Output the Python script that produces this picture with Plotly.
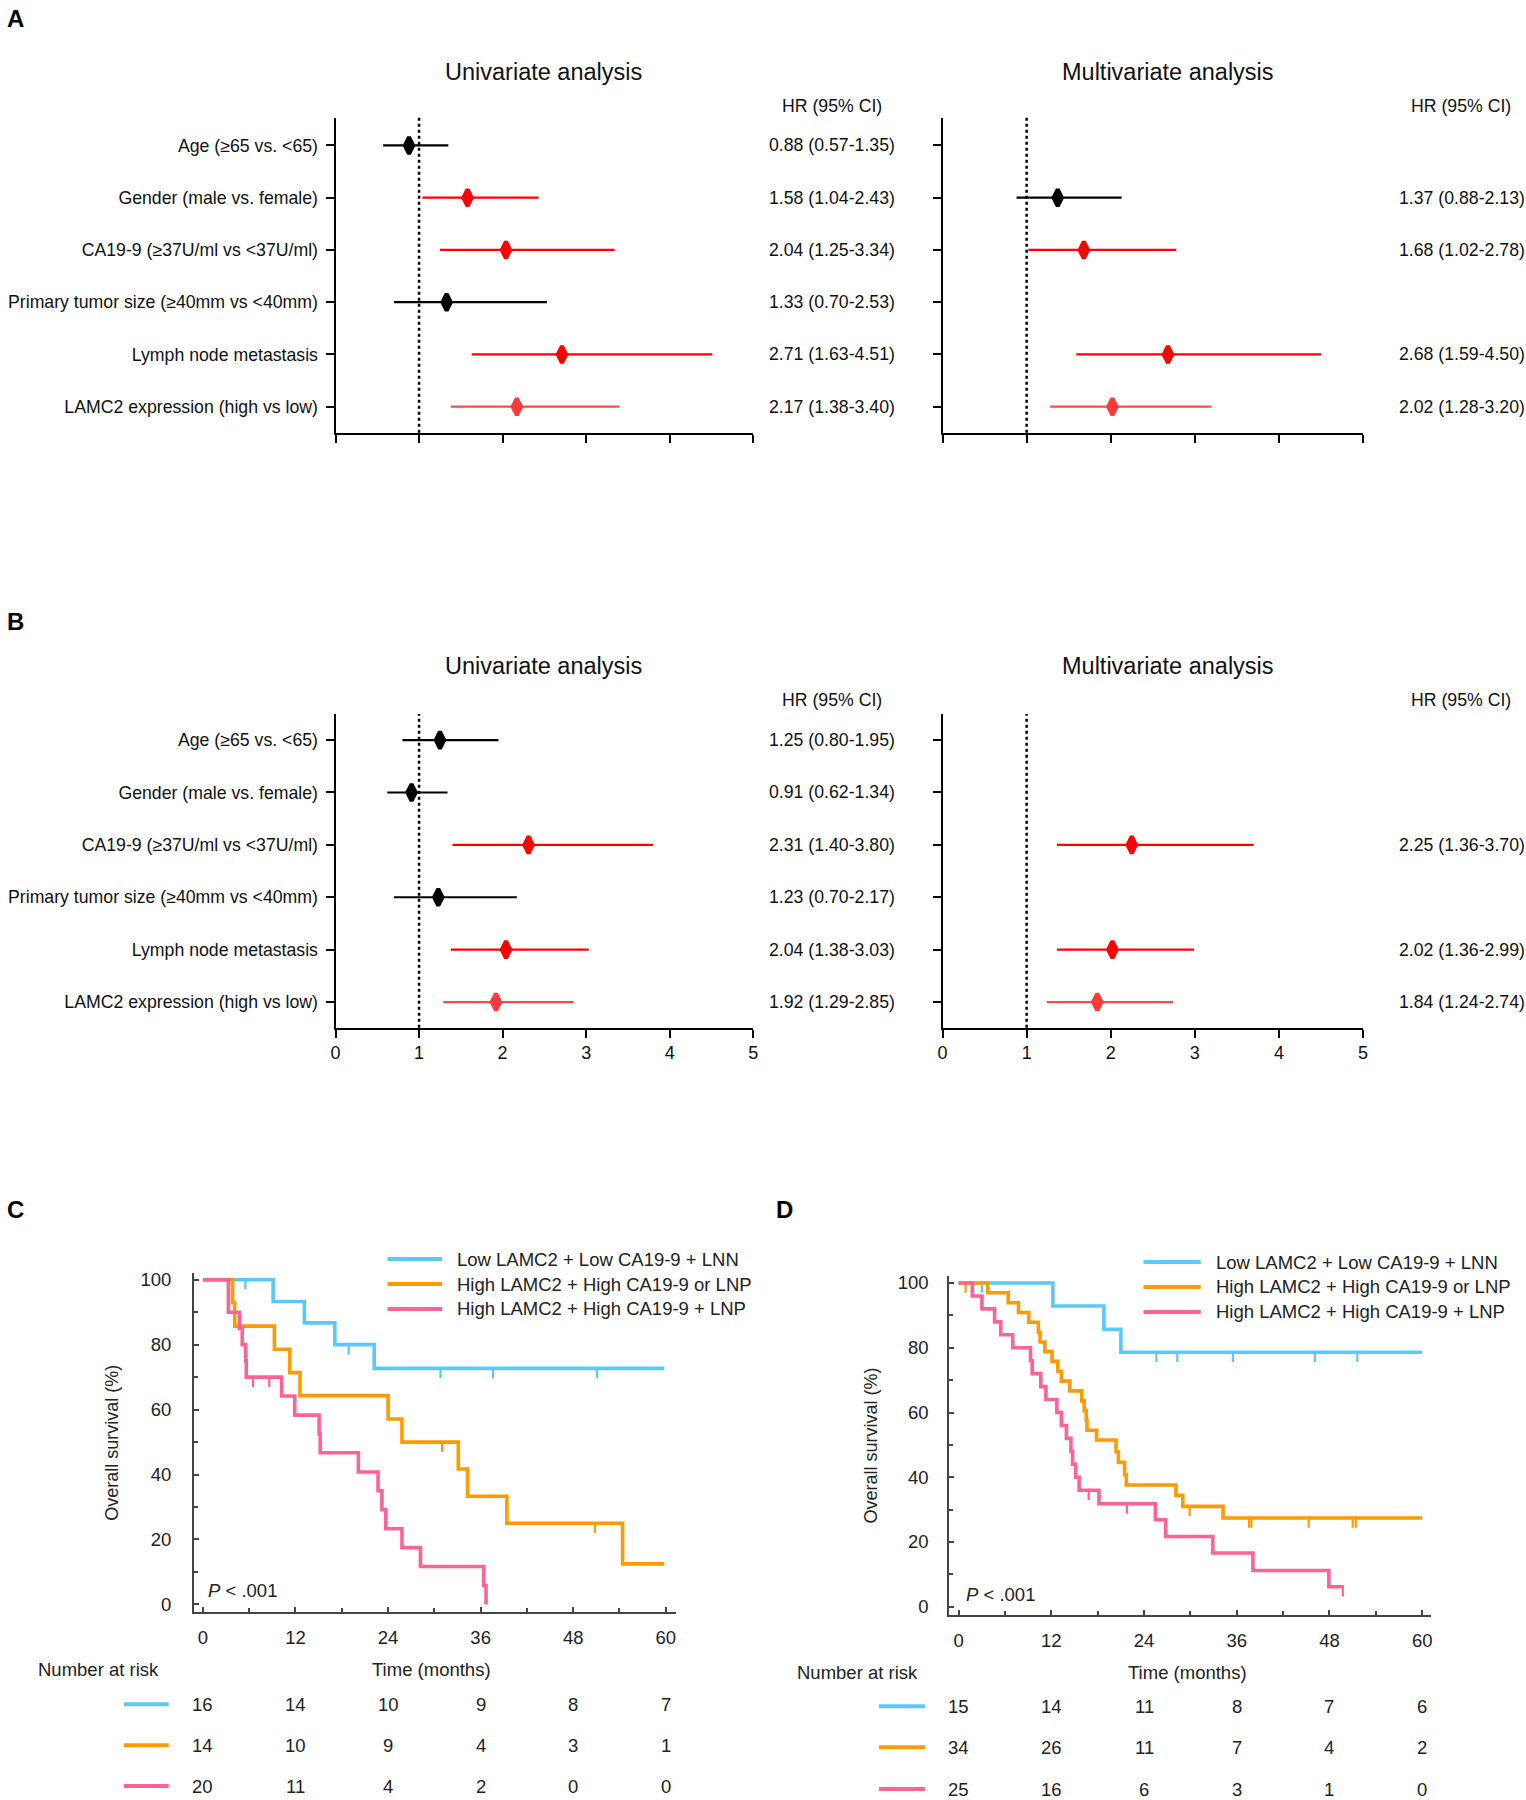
import plotly.graph_objects as go

W, H = 1526, 1800
FONT = "Liberation Sans, Arial, sans-serif"


def fx(p):
    return p / W


def fy(p):
    return 1 - p / H


# ---------------- data ----------------
factors = ["Age (≥65 vs. <65)", "Gender (male vs. female)", "CA19-9 (≥37U/ml vs <37U/ml)",
           "Primary tumor size (≥40mm vs <40mm)", "Lymph node metastasis",
           "LAMC2 expression (high vs low)"]

A_uni_hr = [0.88, 1.58, 2.04, 1.33, 2.71, 2.17]
A_uni_lo = [0.57, 1.04, 1.25, 0.70, 1.63, 1.38]
A_uni_hi = [1.35, 2.43, 3.34, 2.53, 4.51, 3.40]
A_multi_hr = [None, 1.37, 1.68, None, 2.68, 2.02]
A_multi_lo = [None, 0.88, 1.02, None, 1.59, 1.28]
A_multi_hi = [None, 2.13, 2.78, None, 4.50, 3.20]

B_uni_hr = [1.25, 0.91, 2.31, 1.23, 2.04, 1.92]
B_uni_lo = [0.80, 0.62, 1.40, 0.70, 1.38, 1.29]
B_uni_hi = [1.95, 1.34, 3.80, 2.17, 3.03, 2.85]
B_multi_hr = [None, None, 2.25, None, 2.02, 1.84]
B_multi_lo = [None, None, 1.36, None, 1.36, 1.24]
B_multi_hi = [None, None, 3.70, None, 2.99, 2.74]

group_names = ["Low LAMC2 + Low CA19-9 + LNN",
               "High LAMC2 + High CA19-9 or LNP",
               "High LAMC2 + High CA19-9 + LNP"]
km_colors = ["#5cc8fa", "#ff9a00", "#ff6396"]

# Panel C (event times in months, survival % after each event)
C_blue_t = [9.1, 13.15, 17.1, 22.2]
C_blue_s = [93.3, 86.7, 80.0, 72.7]
C_blue_end = 59.8
C_blue_cens = [5.5, 18.9, 30.8, 37.6, 51.1]

C_orange_t = [3.85, 4.12, 9.26, 11.25, 12.58, 24.0, 25.8, 33.1, 34.3, 39.4, 54.4]
C_orange_s = [92.9, 85.7, 78.6, 71.4, 64.3, 57.1, 50.0, 41.7, 33.3, 25.0, 12.5]
C_orange_end = 59.8
C_orange_cens = [31.0, 50.8]

C_pink_t = [3.3, 4.74, 5.09, 5.54, 5.62, 10.2, 11.9, 15.06, 15.2, 20.15, 22.7, 23.2,
            23.7, 25.8, 28.2, 36.4, 36.7]
C_pink_s = [90.0, 85.0, 80.0, 75.0, 70.0, 64.2, 58.3, 52.5, 46.7, 40.8, 35.0, 29.2,
            23.3, 17.5, 11.7, 5.8, 0.0]
C_pink_end = 36.7
C_pink_cens = [6.5, 8.6]

# Panel D
D_blue_t = [12.2, 18.8, 21.0]
D_blue_s = [92.9, 85.7, 78.6]
D_blue_end = 60.0
D_blue_cens = [3.0, 25.6, 28.3, 35.5, 46.1, 51.6]

D_orange_t = [3.76, 6.42, 7.75, 9.08, 10.32, 10.54, 11.16, 12.09, 12.84, 13.29, 14.39,
              15.94, 16.25, 16.52, 16.61, 17.85, 20.37, 20.68, 21.48, 21.70, 28.12,
              29.01, 34.23]
D_orange_s = [97.0, 93.9, 90.9, 87.9, 84.8, 81.8, 78.8, 75.8, 72.7, 69.7, 66.7,
              63.6, 60.6, 57.6, 54.5, 51.5, 47.9, 44.6, 40.7, 37.6, 34.4,
              31.0, 27.4]
D_orange_end = 60.0
D_orange_cens = [0.9, 29.9, 37.6, 37.9, 45.3, 51.0, 51.4]

D_pink_t = [1.77, 3.01, 4.65, 5.45, 7.0, 9.3, 9.52, 10.63, 11.29, 12.71, 13.29, 13.95,
            14.53, 14.75, 15.15, 15.59, 18.16, 25.46, 26.79, 32.9, 38.09, 47.92]
D_pink_s = [96.0, 92.0, 88.0, 84.0, 80.0, 76.0, 72.0, 68.0, 64.0, 60.0, 56.0, 52.0,
            48.0, 44.0, 40.0, 36.0, 31.8, 26.9, 21.7, 16.6, 11.2, 6.2]
D_pink_end = 49.73
D_pink_cens = [16.83, 21.79, 49.73]

risk_times = [0, 12, 24, 36, 48, 60]
C_risk = [[16, 14, 10, 9, 8, 7], [14, 10, 9, 4, 3, 1], [20, 11, 4, 2, 0, 0]]
D_risk = [[15, 14, 11, 8, 7, 6], [34, 26, 11, 7, 4, 2], [25, 16, 6, 3, 1, 0]]

# ---------------- figure ----------------
fig = go.Figure()
annotations = []
shapes = []


def ann(text, x, y, size=17.7, xanchor="center", yanchor="middle", xref="paper", yref="paper",
        bold=False, color="#111", textangle=0):
    if bold:
        text = "<b>" + text + "</b>"
    annotations.append(dict(text=text, x=x, y=y, xref=xref, yref=yref, xanchor=xanchor,
                            yanchor=yanchor, showarrow=False, textangle=textangle,
                            font=dict(family=FONT, size=size, color=color)))


RED = "#ff0000"
LIGHT_RED_LINE = "#ff4a4a"
LIGHT_RED_MARK = "#ff3a3a"


def forest(hr, lo, hi, xname, yname, text_x_px):
    for i in range(len(hr)):
        if hr[i] is None:
            continue
        sig = lo[i] > 1
        lc = (LIGHT_RED_LINE if i == 5 else RED) if sig else "#000000"
        mc = (LIGHT_RED_MARK if i == 5 else RED) if sig else "#000000"
        fig.add_trace(go.Scatter(x=[lo[i], hi[i]], y=[i, i], mode="lines",
                                 line=dict(color=lc, width=2.2), xaxis=xname, yaxis=yname,
                                 showlegend=False, hoverinfo="skip"))
        fig.add_trace(go.Scatter(x=[hr[i]], y=[i], mode="markers",
                                 marker=dict(symbol="diamond-tall", size=12, color=mc,
                                             line=dict(color=mc, width=4)),
                                 xaxis=xname, yaxis=yname, showlegend=False))
        ann(f"{hr[i]:.2f} ({lo[i]:.2f}-{hi[i]:.2f})", fx(text_x_px), i,
            xref="paper", yref=yname)
    shapes.append(dict(type="line", xref=xname, yref=yname + " domain", x0=1, x1=1, y0=0, y1=1,
                       line=dict(color="#000", width=2.5, dash="dot"), layer="below"))


forest(A_uni_hr, A_uni_lo, A_uni_hi, "x", "y", 832)
forest(A_multi_hr, A_multi_lo, A_multi_hi, "x2", "y2", 1467)
forest(B_uni_hr, B_uni_lo, B_uni_hi, "x3", "y3", 832)
forest(B_multi_hr, B_multi_lo, B_multi_hi, "x4", "y4", 1467)


def surv_at(ts, ss, t):
    v = 100.0
    for ti, si in zip(ts, ss):
        if ti <= t:
            v = si
    return v


def km(ts, ss, end, cens, color, xname, yname, off):
    xs = [0] + ts + [end]
    ys = [100.0] + ss + [ss[-1]]
    fig.add_trace(go.Scatter(x=xs, y=ys, mode="lines", line=dict(color=color, width=3.6, shape="hv"),
                             xaxis=xname, yaxis=yname, showlegend=False))
    cy = [surv_at(ts, ss, c) - off for c in cens]
    fig.add_trace(go.Scatter(x=cens, y=cy, mode="markers",
                             marker=dict(symbol="line-ns", size=8, line=dict(color=color, width=2.2)),
                             xaxis=xname, yaxis=yname, showlegend=False))


km(C_blue_t, C_blue_s, C_blue_end, C_blue_cens, km_colors[0], "x5", "y5", 1.3)
km(C_orange_t, C_orange_s, C_orange_end, C_orange_cens, km_colors[1], "x5", "y5", 1.3)
km(C_pink_t, C_pink_s, C_pink_end, C_pink_cens, km_colors[2], "x5", "y5", 1.3)
km(D_blue_t, D_blue_s, D_blue_end, D_blue_cens, km_colors[0], "x6", "y6", 1.3)
km(D_orange_t, D_orange_s, D_orange_end, D_orange_cens, km_colors[1], "x6", "y6", 1.3)
km(D_pink_t, D_pink_s, D_pink_end, D_pink_cens, km_colors[2], "x6", "y6", 1.3)


# ---------------- axes ----------------
def forest_axes(xdom, ydom, yrange, show_x, ylabels):
    xa = dict(domain=[fx(xdom[0]), fx(xdom[1])], range=[0, 5], showline=True, linecolor="#000",
              linewidth=2, ticks="outside", ticklen=8, tickwidth=2, tickcolor="#000",
              tickmode="array", tickvals=[0, 1, 2, 3, 4, 5], showticklabels=show_x,
              showgrid=False, zeroline=False, tickfont=dict(family=FONT, size=18, color="#111"))
    ya = dict(domain=[fy(ydom[1]), fy(ydom[0])], range=yrange, showline=True, linecolor="#000",
              linewidth=2, ticks="outside", ticklen=8, tickwidth=2, tickcolor="#000",
              tickmode="array", tickvals=list(range(6)),
              ticktext=ylabels if ylabels else [""] * 6, showticklabels=bool(ylabels),
              ticklabelstandoff=4,
              showgrid=False, zeroline=False, tickfont=dict(family=FONT, size=17.7, color="#111"))
    return xa, ya


def km_axes(xdom, xr, ydom, yr, ystand):
    xa = dict(domain=[fx(xdom[0]), fx(xdom[1])], range=xr, showline=True, linecolor="#444",
              linewidth=2, ticks="inside", ticklen=5, tickwidth=1.5, tickcolor="#444",
              tickmode="linear", tick0=0, dtick=12,
              minor=dict(tick0=0, dtick=6, ticks="inside", ticklen=4, tickwidth=1.5, tickcolor="#444"),
              showgrid=False, zeroline=False, ticklabelstandoff=8,
              tickfont=dict(family=FONT, size=18.5, color="#222"))
    ya = dict(domain=[fy(ydom[1]), fy(ydom[0])], range=yr, showline=True, linecolor="#444",
              linewidth=2, ticks="inside", ticklen=5, tickwidth=1.5, tickcolor="#444",
              tickmode="linear", tick0=0, dtick=20,
              minor=dict(tick0=0, dtick=10, ticks="inside", ticklen=4, tickwidth=1.5, tickcolor="#444"),
              showgrid=False, zeroline=False, ticklabelstandoff=ystand,
              tickfont=dict(family=FONT, size=18.5, color="#222"))
    return xa, ya


xa1, ya1 = forest_axes((332.7, 753.2), (114.3, 430.3), [5.496, -0.528], False, factors)
xa2, ya2 = forest_axes((943.7, 1367), (114.3, 430.3), [5.496, -0.528], False, None)
xa3, ya3 = forest_axes((332.7, 753.2), (712.7, 1027.7), [5.49, -0.5], True, factors)
xa4, ya4 = forest_axes((943.7, 1367), (712.7, 1027.7), [5.49, -0.5], True, None)
xa5, ya5 = km_axes((190.3, 675), [-1.15, 61.27], (1274, 1614), [-2.24, 102.05], 17)
xa6, ya6 = km_axes((950.6, 1435.8), [-1.2, 61.19], (1276.7, 1617.3), [-2.55, 102.25], 15)

for k, (xa, ya) in enumerate([(xa1, ya1), (xa2, ya2), (xa3, ya3), (xa4, ya4), (xa5, ya5), (xa6, ya6)], 1):
    s = "" if k == 1 else str(k)
    xa["anchor"] = "y" + s
    ya["anchor"] = "x" + s
    fig.layout["xaxis" + s] = xa
    fig.layout["yaxis" + s] = ya

# ---------------- text ----------------
ann("A", fx(11), fy(15), size=24, bold=True, color="#000")
ann("B", fx(11), fy(620), size=24, bold=True, color="#000")
ann("C", fx(11), fy(1210), size=24, bold=True, color="#000")
ann("D", fx(785), fy(1210), size=24, bold=True, color="#000")

for ty, hy in [(68, 102), (665, 699)]:
    ann("Univariate analysis", fx(542), fy(ty), size=23.5)
    ann("Multivariate analysis", fx(1171), fy(ty), size=23.5)
    ann("HR (95% CI)", fx(832), fy(hy))
    ann("HR (95% CI)", fx(1466), fy(hy))


def km_text(leg_x0, leg_x1, leg_tx, leg_rows, ylab_x, ylab_y, p_x, p_y, time_x, time_y,
            nar_x, key_x0, key_x1, risk_rows, risk, xname):
    for k in range(3):
        shapes.append(dict(type="line", xref="paper", yref="paper", x0=fx(leg_x0), x1=fx(leg_x1),
                           y0=fy(leg_rows[k]), y1=fy(leg_rows[k]),
                           line=dict(color=km_colors[k], width=4)))
        ann(group_names[k], fx(leg_tx), fy(leg_rows[k]), size=18.5, xanchor="left", color="#222")
        shapes.append(dict(type="line", xref="paper", yref="paper", x0=fx(key_x0), x1=fx(key_x1),
                           y0=fy(risk_rows[k]), y1=fy(risk_rows[k]),
                           line=dict(color=km_colors[k], width=4)))
        for t, n in zip(risk_times, risk[k]):
            ann(str(n), t, fy(risk_rows[k]), size=18.5, xref=xname, color="#222")
    ann("Overall survival (%)", fx(ylab_x), fy(ylab_y), size=18, textangle=-90, color="#222")
    ann("<i>P</i> < .001", fx(p_x), fy(p_y), size=18.5, xanchor="left", color="#222")
    ann("Time (months)", fx(time_x), fy(time_y), size=18.5, color="#222")
    ann("Number at risk", fx(nar_x), fy(time_y), size=18.5, color="#222")


km_text(385, 440, 453, [1260, 1285, 1310], 108, 1444, 202, 1593, 429, 1672,
        94, 119.7, 164.8, [1707, 1748, 1789], C_risk, "x5")
km_text(1146, 1203.6, 1216.8, [1263, 1288, 1313], 871.4, 1447.5, 965, 1597, 1190, 1675,
        858, 879.7, 926, [1709, 1750, 1792], D_risk, "x6")

fig.update_layout(width=W, height=H, margin=dict(l=0, r=0, t=0, b=0),
                  paper_bgcolor="white", plot_bgcolor="white",
                  font=dict(family=FONT, color="#111"),
                  annotations=annotations, shapes=shapes, showlegend=False)

fig.write_html("out.html", config={"displayModeBar": False},
               post_script="document.body.style.margin='0';document.body.style.overflow='hidden';")
